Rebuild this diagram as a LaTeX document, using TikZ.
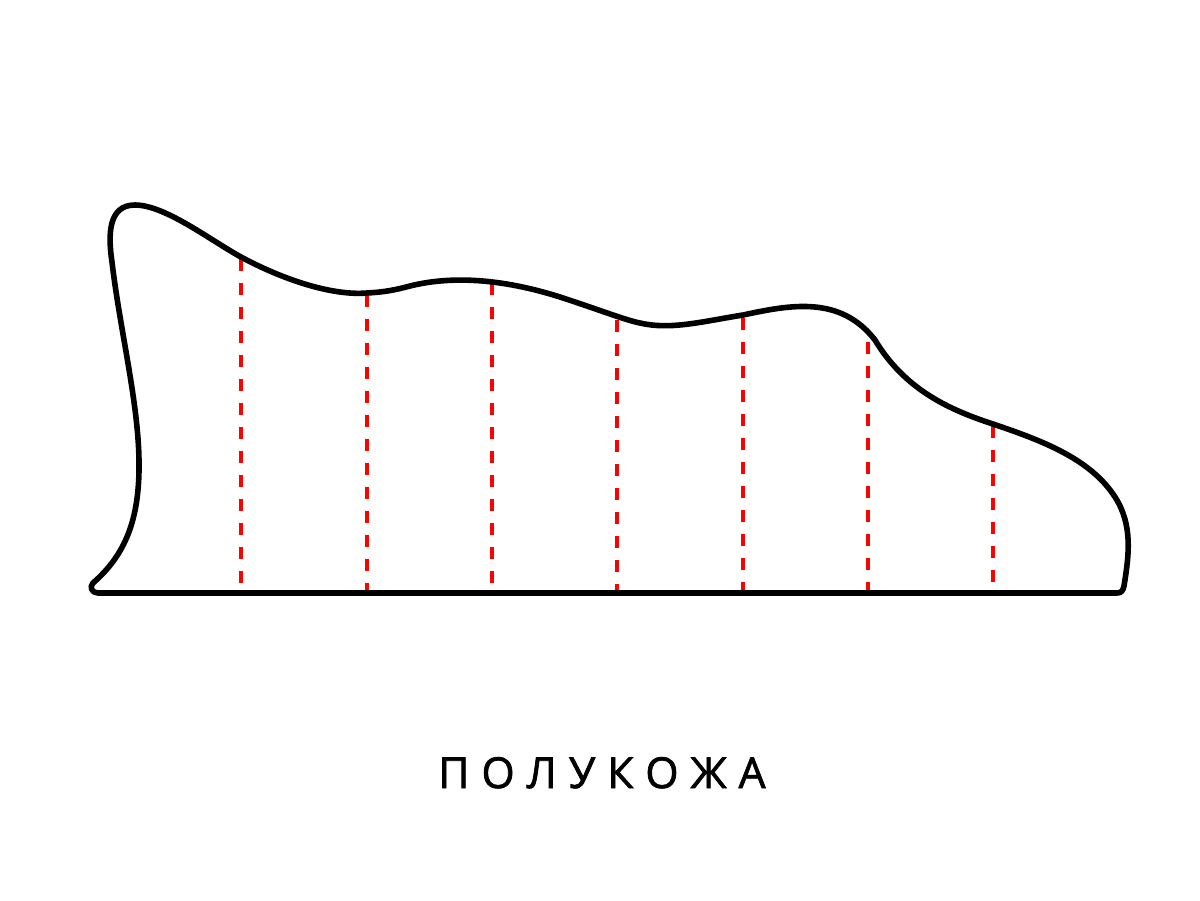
\documentclass[tikz,border=0pt]{standalone}
\usepackage{fontspec}
\newfontfamily\labelfont[FakeBold=1.6]{Open Sans}
\begin{document}
\begin{tikzpicture}[x=0.75pt,y=-0.75pt,
  outline/.style={draw=black,line width=4.2pt,line join=round,line cap=round},
  cutline/.style={draw=red,line width=2.5pt,dash pattern=on 9pt off 9pt},
  caption/.style={font=\labelfont\fontsize{32}{36}\selectfont,text=black,inner sep=0pt,anchor=base}]
\useasboundingbox (0,0) rectangle (1200,900);
% cut lines
\foreach \x/\y in {241/257,367/293,492/281,617/318,743/316,868/340,993/424}{
  \draw[cutline] (\x,\y+2) -- (\x,590);
}
% hide outline
\draw[outline] (93,583)
  .. controls (125,555) and (140,520) .. (139,460)
  .. controls (138,400) and (120,330) .. (112,262)
  .. controls (108,235) and (108,205) .. (135,205)
  .. controls (165,205) and (210,240) .. (241,257)
  .. controls (280,278) and (330,296) .. (367,293)
  .. controls (385,292) and (395,290) .. (410,286)
  .. controls (450,276) and (500,278) .. (560,297)
  .. controls (600,310) and (625,320) .. (640,323)
  .. controls (670,330) and (700,322) .. (743,315)
  .. controls (790,305) and (840,295) .. (875,340)
  .. controls (905,390) and (950,410) .. (993,424)
  .. controls (1040,440) and (1090,458) .. (1115,497)
  .. controls (1133,525) and (1129,555) .. (1124,586)
  .. controls (1123,591) and (1121,593) .. (1117,593)
  -- (98,593)
  .. controls (92,593) and (89,587) .. (93,583) -- cycle;
\node[caption] (title) at (602,788) {П\hspace{9pt}О\hspace{9pt}Л\hspace{9pt}У\hspace{9pt}К\hspace{9pt}О\hspace{9pt}Ж\hspace{9pt}А};
\end{tikzpicture}
\end{document}
